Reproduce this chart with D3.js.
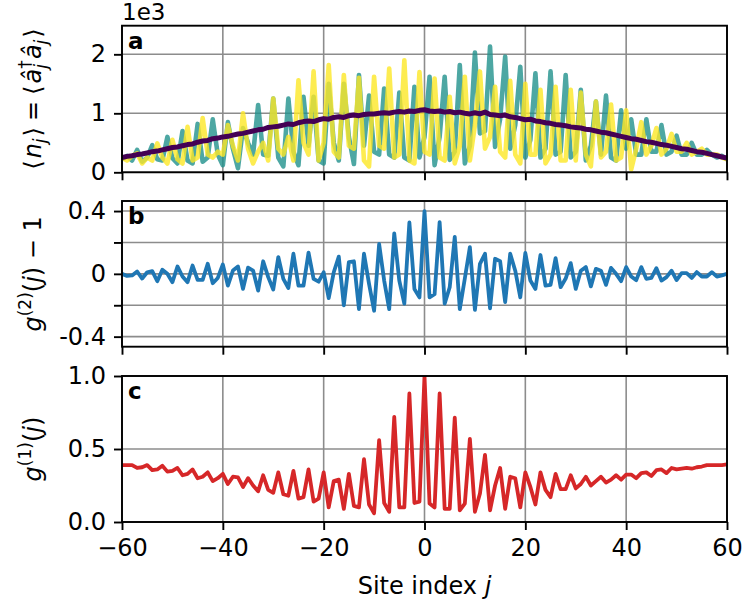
<!DOCTYPE html>
<html>
<head>
<meta charset="utf-8">
<script src="https://cdn.jsdelivr.net/npm/d3@7"></script>
<style>
  body { margin: 0; background: #fff; }
  text { font-family: "DejaVu Sans", sans-serif; }
</style>
</head>
<body>
<div id="chart"></div>
<script>
// site index j = -60 ... 60
var sites = d3.range(-60, 61);

// panel a, densities in units of 1e3 (two snapshots + mean)
var densTeal = [0.22,0.28,0.20,0.38,0.18,0.25,0.46,0.22,0.20,0.60,
  0.24,0.15,0.70,0.20,0.15,0.82,0.18,0.25,0.90,0.30,
  0.12,0.85,0.40,0.07,0.75,0.50,0.30,1.14,0.30,0.28,
  1.25,0.25,0.10,1.25,0.35,0.12,1.28,0.45,1.28,0.20,
  0.15,1.50,0.50,0.20,1.50,0.60,0.14,1.65,0.45,1.30,
  0.35,0.30,1.42,0.30,0.25,1.35,0.25,0.20,1.45,0.25,
  0.60,1.62,0.12,0.60,1.62,0.21,0.35,1.82,0.15,0.45,
  2.03,0.66,0.70,2.13,0.43,0.90,1.96,0.40,0.80,1.79,
  0.25,0.55,1.68,0.25,0.40,1.71,0.30,0.35,1.65,0.25,
  0.35,1.40,0.20,0.45,1.20,0.30,1.30,0.25,0.20,1.05,
  0.40,0.90,0.30,0.30,0.90,0.35,0.35,0.80,0.30,0.35,
  0.62,0.30,0.30,0.50,0.30,0.30,0.38,0.30,0.25,0.28,
  0.22];
var densYellow = [0.25,0.20,0.28,0.32,0.15,0.25,0.20,0.49,0.25,0.15,
  0.55,0.22,0.15,0.77,0.20,0.25,0.92,0.30,0.25,0.35,
  0.30,0.80,0.45,0.20,1.00,0.40,0.15,0.35,0.50,0.20,
  1.25,0.40,0.30,0.60,0.20,1.56,0.50,0.30,1.71,0.20,
  0.50,1.82,0.35,0.25,1.65,0.45,0.40,1.60,0.20,0.10,
  1.62,0.45,0.40,1.76,0.25,0.30,1.90,0.20,0.15,1.70,
  0.35,0.30,1.59,0.25,0.20,1.28,0.15,0.45,1.62,0.20,
  0.80,1.71,0.40,0.60,1.45,0.35,0.25,1.55,0.30,0.15,
  1.50,0.30,0.30,1.40,0.15,0.30,1.45,0.20,0.20,1.40,
  0.20,1.35,0.30,0.10,1.20,0.25,0.35,1.15,0.20,0.25,
  1.05,0.05,0.40,0.85,0.30,0.45,0.75,0.30,0.40,0.65,
  0.35,0.35,0.50,0.30,0.35,0.40,0.30,0.30,0.30,0.25,
  0.22];
var densMean = [0.25,0.27,0.28,0.30,0.31,0.33,0.35,0.36,0.38,0.40,
  0.42,0.43,0.45,0.47,0.48,0.51,0.53,0.54,0.57,0.58,
  0.60,0.61,0.63,0.65,0.66,0.68,0.70,0.72,0.73,0.76,
  0.77,0.78,0.80,0.82,0.81,0.84,0.86,0.87,0.86,0.89,
  0.91,0.90,0.93,0.94,0.93,0.96,0.97,0.96,0.98,0.99,
  0.99,1.00,1.01,1.00,1.02,1.03,1.02,1.04,1.03,1.05,
  1.06,1.04,1.03,1.04,1.02,1.03,1.01,1.02,1.00,0.99,
  1.01,0.99,1.02,0.98,0.97,0.96,0.97,0.94,0.93,0.91,
  0.89,0.90,0.87,0.86,0.84,0.83,0.81,0.80,0.79,0.77,
  0.76,0.75,0.73,0.72,0.70,0.68,0.67,0.65,0.63,0.61,
  0.59,0.57,0.56,0.54,0.52,0.51,0.49,0.47,0.46,0.44,
  0.42,0.40,0.39,0.37,0.35,0.34,0.32,0.30,0.28,0.26,
  0.24];

// panel b, g2(j) - 1
var g2m1 = [0.0,-0.013,-0.01,0.015,-0.03,0.01,0.017,-0.047,0.026,0.0,
  -0.053,0.047,-0.017,-0.053,0.053,-0.038,-0.038,0.064,-0.06,-0.026,
  0.06,-0.075,0.021,0.047,-0.096,0.04,0.021,-0.107,0.08,-0.021,
  -0.10,0.107,-0.032,-0.09,0.128,-0.075,-0.075,0.135,-0.032,-0.05,
  0.01,-0.154,0.01,0.11,-0.20,0.075,0.08,-0.225,0.128,-0.064,
  -0.235,0.19,-0.043,-0.225,0.257,-0.043,-0.19,0.327,-0.096,-0.15,
  0.40,
  -0.15,-0.13,0.33,-0.19,-0.085,0.235,-0.225,-0.03,0.17,-0.23,
  0.064,0.128,-0.22,0.096,0.08,-0.18,0.128,0.02,-0.15,0.133,
  -0.043,-0.096,0.12,-0.075,-0.07,0.10,-0.085,-0.03,0.068,-0.096,
  0.02,0.043,-0.08,0.032,0.02,-0.07,0.038,0.0,-0.047,0.043,
  -0.017,-0.04,0.043,-0.032,-0.026,0.036,-0.043,-0.021,0.02,-0.04,
  0.004,0.004,-0.026,0.011,-0.017,-0.017,0.011,-0.017,-0.01,0.0];

// panel c, g1(j)
var g1 = [0.39,0.39,0.39,0.37,0.375,0.39,0.355,0.36,0.385,0.345,
  0.35,0.37,0.32,0.33,0.36,0.30,0.31,0.34,0.28,0.30,
  0.33,0.26,0.31,0.305,0.24,0.30,0.25,0.21,0.32,0.22,
  0.20,0.34,0.19,0.18,0.35,0.16,0.17,0.36,0.14,0.16,
  0.34,0.10,0.28,0.29,0.09,0.33,0.11,0.10,0.43,0.12,
  0.06,0.56,0.13,0.07,0.72,0.10,0.10,0.88,0.13,0.14,
  1.0,
  0.126,0.10,0.88,0.09,0.09,0.715,0.08,0.126,0.57,0.07,
  0.195,0.46,0.08,0.25,0.37,0.09,0.31,0.30,0.10,0.34,
  0.24,0.12,0.34,0.22,0.17,0.33,0.225,0.225,0.32,0.23,
  0.26,0.31,0.25,0.28,0.31,0.27,0.29,0.32,0.29,0.325,
  0.325,0.30,0.335,0.34,0.315,0.355,0.36,0.335,0.37,0.36,
  0.365,0.37,0.365,0.375,0.38,0.39,0.39,0.39,0.39,0.395];

var xTicks = [-60, -40, -20, 0, 20, 40, 60];
var aTicks = [0, 1, 2];
var aTickLabels = ["0", "1", "2"];
var bTicks = [-0.4, -0.2, 0, 0.2, 0.4];
var bTickLabels = ["-0.4", "", "0", "", "0.4"];
var cTicks = [0, 0.5, 1.0];
var cTickLabels = ["0.0", "0.5", "1.0"];

var svgWidth = 744, svgHeight = 606;
var left = 122, right = 727;
var fs = 24;

var svg = d3.select("#chart").append("svg")
  .attr("width", svgWidth)
  .attr("height", svgHeight);

var x = d3.scaleLinear().domain([-60, 60]).range([left, right]);

function makePanel(id, top, bottom, yDomain, yTicks, yLabels, showX) {
  var y = d3.scaleLinear().domain(yDomain).range([bottom, top]);
  var g = svg.append("g");

  svg.append("clipPath").attr("id", "clip-" + id)
    .append("rect")
    .attr("x", left).attr("y", top)
    .attr("width", right - left).attr("height", bottom - top);

  // grid
  g.selectAll(".gx").data(xTicks).join("line")
    .attr("x1", d => x(d)).attr("x2", d => x(d))
    .attr("y1", top).attr("y2", bottom)
    .attr("stroke", "#8c8c8c").attr("stroke-width", 1.6);
  g.selectAll(".gy").data(yTicks).join("line")
    .attr("x1", left).attr("x2", right)
    .attr("y1", d => y(d)).attr("y2", d => y(d))
    .attr("stroke", "#8c8c8c").attr("stroke-width", 1.6);

  var plot = g.append("g").attr("clip-path", "url(#clip-" + id + ")");

  // axes
  var yAxis = g.append("g")
    .attr("transform", "translate(" + left + ",0)")
    .call(d3.axisLeft(y).tickValues(yTicks)
      .tickFormat((d, i) => yLabels[i]).tickSize(8).tickPadding(8));
  var xAxis = g.append("g")
    .attr("transform", "translate(0," + bottom + ")")
    .call(d3.axisBottom(x).tickValues(xTicks)
      .tickFormat(showX ? null : "").tickSize(8).tickPadding(9));
  [yAxis, xAxis].forEach(a => {
    a.select(".domain").remove();
    a.selectAll("line").attr("stroke", "#000").attr("stroke-width", 1.9);
    a.selectAll("text").attr("font-size", fs).attr("fill", "#000")
      .attr("font-family", "DejaVu Sans");
  });

  return {g: g, plot: plot, y: y, top: top, bottom: bottom};
}

function spines(p) {
  p.g.append("rect")
    .attr("x", left).attr("y", p.top)
    .attr("width", right - left).attr("height", p.bottom - p.top)
    .attr("fill", "none").attr("stroke", "#000").attr("stroke-width", 1.9);
}

function drawLine(p, values, color, width, opacity) {
  var line = d3.line()
    .x((d, i) => x(sites[i]))
    .y(d => p.y(d));
  p.plot.append("path")
    .datum(values)
    .attr("d", line)
    .attr("fill", "none")
    .attr("stroke", color)
    .attr("stroke-width", width)
    .attr("stroke-opacity", opacity)
    .attr("stroke-linejoin", "round");
}

// panel a
var pa = makePanel("a", 25.7, 172.3, [0, 2.485], aTicks, aTickLabels, false);
drawLine(pa, densTeal, "#21918c", 4.6, 0.8);
drawLine(pa, densYellow, "#fde725", 4.6, 0.8);
drawLine(pa, densMean, "#440154", 5, 1);
spines(pa);

// panel b
var pb = makePanel("b", 201, 346.7, [-0.464, 0.464], bTicks, bTickLabels, false);
drawLine(pb, g2m1, "#1f77b4", 3.8, 1);
spines(pb);

// panel c
var pc = makePanel("c", 376, 522, [0, 1], cTicks, cTickLabels, true);
drawLine(pc, g1, "#d62728", 3.8, 1);
spines(pc);

// panel letters
[["a", pa], ["b", pb], ["c", pc]].forEach(function(d) {
  svg.append("text")
    .attr("x", left + 6).attr("y", d[1].top + 23)
    .attr("font-size", 23).attr("font-weight", "bold")
    .text(d[0]);
});

// offset text
svg.append("text").attr("x", left).attr("y", 20)
  .attr("font-size", 23).text("1e3");

// x label
var xl = svg.append("text")
  .attr("x", (left + right) / 2).attr("y", 594)
  .attr("text-anchor", "middle").attr("font-size", fs);
xl.append("tspan").text("Site index ");
xl.append("tspan").attr("font-style", "italic").text("j");

// y labels
var labX = 41;
var ya = svg.append("text")
  .attr("transform", "translate(" + labX + "," + ((pa.top + pa.bottom) / 2) + ") rotate(-90)")
  .attr("text-anchor", "middle").attr("font-size", fs);
ya.append("tspan").text("\u27E8");
ya.append("tspan").attr("font-style", "italic").attr("dx", 2).text("n");
ya.append("tspan").attr("font-style", "italic").attr("font-size", 17).attr("dy", 5).text("j");
ya.append("tspan").attr("dy", -5).attr("dx", 2).text("\u27E9");
ya.append("tspan").attr("dx", 6).text("=");
ya.append("tspan").attr("dx", 6).text("\u27E8");
ya.append("tspan").attr("font-style", "italic").attr("dx", 2).text("\u00E2");
ya.append("tspan").attr("font-size", 17).attr("dy", -10).text("\u2020");
ya.append("tspan").attr("font-style", "italic").attr("font-size", 17).attr("dx", -8.5).attr("dy", 16).text("j");
ya.append("tspan").attr("font-style", "italic").attr("dx", 5).attr("dy", -6).text("\u00E2");
ya.append("tspan").attr("font-style", "italic").attr("font-size", 17).attr("dy", 6).text("j");
ya.append("tspan").attr("dy", -6).attr("dx", 2).text("\u27E9");

var yb = svg.append("text")
  .attr("transform", "translate(" + labX + "," + ((pb.top + pb.bottom) / 2) + ") rotate(-90)")
  .attr("text-anchor", "middle").attr("font-size", fs);
yb.append("tspan").attr("font-style", "italic").text("g");
yb.append("tspan").attr("font-size", 17).attr("dy", -10).text("(2)");
yb.append("tspan").attr("dy", 10).text("(");
yb.append("tspan").attr("font-style", "italic").text("j");
yb.append("tspan").text(") \u2212 1");

var yc = svg.append("text")
  .attr("transform", "translate(" + labX + "," + ((pc.top + pc.bottom) / 2) + ") rotate(-90)")
  .attr("text-anchor", "middle").attr("font-size", fs);
yc.append("tspan").attr("font-style", "italic").text("g");
yc.append("tspan").attr("font-size", 17).attr("dy", -10).text("(1)");
yc.append("tspan").attr("dy", 10).text("(");
yc.append("tspan").attr("font-style", "italic").text("j");
yc.append("tspan").text(")");
</script>
</body>
</html>
